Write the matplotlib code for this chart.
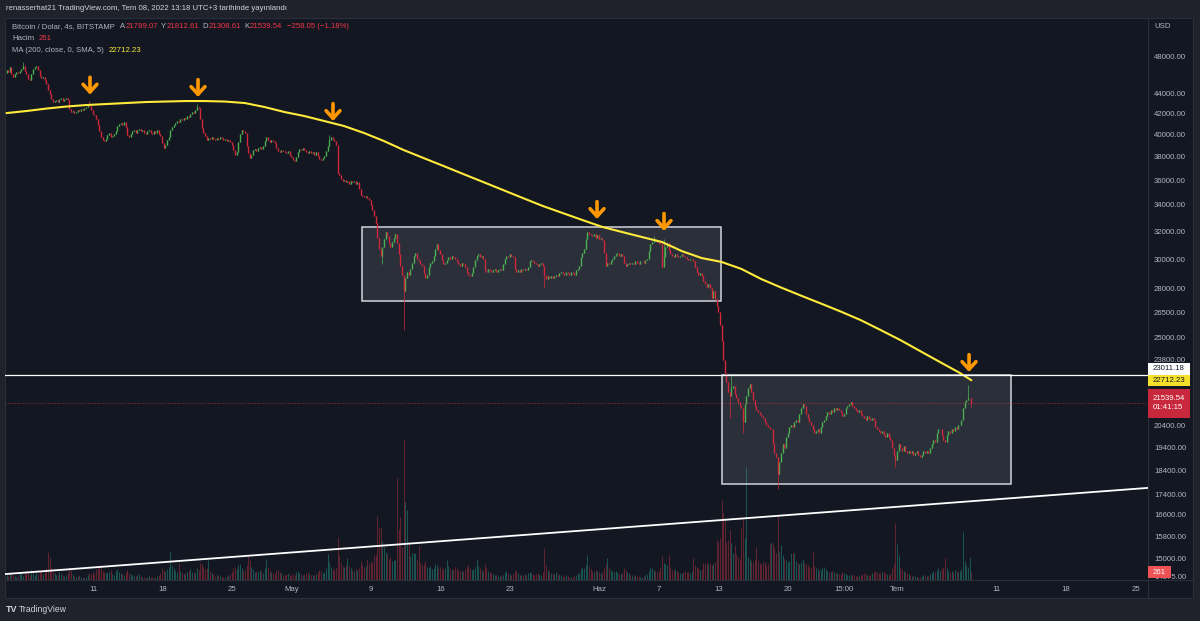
import matplotlib
matplotlib.use("Agg")
import matplotlib.pyplot as plt
import matplotlib.dates as mdates
import numpy as np
import pandas as pd
from matplotlib.patches import Rectangle
from matplotlib.lines import Line2D
from matplotlib.ticker import NullLocator
from matplotlib.transforms import blended_transform_factory, Bbox

plt.rcParams['font.family'] = ['Liberation Sans', 'DejaVu Sans']

# ---------------------------------------------------------------------------
# data (BTC/USD, Bitstamp, 4h bars, UTC+3)
# ---------------------------------------------------------------------------
first_bar = '2022-04-02 07:00'
first_open = 46300

# closes, one row per day (07:00 ... 03:00)
closes = [
    46600, 46400, 46900, 46200, 45800, 46100,
    46400, 46300, 46500, 46700, 47000, 46500,
    46100, 45600, 45500, 46200, 46700, 46900,
    47000, 46600, 45900, 45700, 45800, 45500,
    45100, 44500, 44100, 43600, 43300, 43400,
    43500, 43300, 43600, 43700, 43400, 43600,
    43700, 43500, 42600, 42300, 42400, 42200,
    42300, 42500, 42400, 42600, 42500, 42700,
    42800, 43000, 42900, 42500, 42100, 42000,
    41600, 41000, 40400, 39900, 39600, 39500,
    39700, 40100, 40300, 39900, 40000, 40200,
    40400, 40900, 41100, 41200, 41000, 41300,
    40800, 40100, 39900, 40200, 40400, 40500,
    40300, 40500, 40600, 40400, 40500, 40300,
    40200, 40400, 40500, 40300, 40200, 40400,
    40300, 40500, 40200, 40000, 39300, 38900,
    39200, 39600, 39900, 40500, 40800, 41000,
    41200, 41400, 41300, 41600, 41500, 41700,
    41600, 41900, 41800, 42100, 42300, 42200,
    42500, 42800, 42700, 41600, 40700, 40300,
    40000, 39600, 39800, 39700, 39900, 39700,
    39600, 39800, 39700, 39900, 39800, 39600,
    39700, 39500, 39600, 39400, 39200, 38700,
    38300, 38500, 39400, 40200, 40500, 40400,
    40300, 39100, 38400, 38000, 38300, 38700,
    38800, 38600, 38900, 39000, 38800, 39100,
    39500, 39900, 39600, 39400, 39600, 39500,
    39300, 38900, 38600, 38500, 38700, 38600,
    38500, 38400, 38600, 38300, 38100, 37800,
    37700, 38100, 38500, 38800, 38700, 38900,
    38700, 38500, 38400, 38600, 38400, 38500,
    38300, 38500, 38200, 37900, 37800, 38000,
    38200, 38600, 39100, 39600, 39900, 39700,
    39500, 39200, 36700, 36500, 36200, 36000,
    36100, 35900, 36000, 35800, 36000, 35900,
    36000, 35800, 35900, 35400, 34900, 34800,
    34700, 34800, 34600, 34500, 34100, 33700,
    33200, 32700, 31600, 30800, 30300, 30900,
    31500, 32000, 31700, 31200, 30900, 31300,
    31600, 31900, 31200, 30400, 29600, 29000,
    27900, 28800, 29200, 29000, 29400, 29800,
    30300, 30500, 30100, 29900, 29700, 29600,
    29100, 28800, 29000, 29500, 29800, 29900,
    30300, 30800, 31100, 30700, 30400, 30000,
    29700, 29800, 30000, 30200, 30100, 30300,
    30200, 30100, 29900, 29700, 29600, 29800,
    29700, 29500, 29200, 29000, 28900, 29100,
    29500, 30000, 30300, 30400, 30200, 30300,
    30100, 29300, 29200, 29400, 29300, 29200,
    29300, 29400, 29200, 29300, 29400, 29300,
    29700, 30100, 30300, 30200, 30400, 30300,
    30200, 29400, 29200, 29300, 29200, 29400,
    29300, 29400, 29300, 29500, 29900, 30000,
    29900, 29800, 29700, 29600, 29700, 29800,
    29600, 29000, 28700, 28900, 28800, 28900,
    28800, 28900, 29000, 28900, 29100, 29200,
    29100, 29000, 29200, 29100, 29000, 29200,
    29100, 29000, 29300, 29400, 29600, 30200,
    30500, 30800, 31500, 32000, 31900, 31800,
    31700, 31900, 31600, 31800, 31500, 31600,
    31400, 30500, 29600, 29800, 29700, 29900,
    30100, 30300, 30400, 30500, 30300, 30400,
    30300, 29800, 29600, 29700, 29800, 29700,
    29800, 29700, 29900, 29800, 29700, 29900,
    29900, 29800, 30000, 30100, 30600, 31100,
    31300, 31500, 31400, 31300, 31200, 31100,
    29500, 30200, 30900, 31200, 30700, 30400,
    30300, 30200, 30400, 30300, 30200, 30300,
    30400, 30300, 30200, 30100, 30000, 30100,
    30100, 29900, 29500, 29200, 29000, 29100,
    28900, 28600, 28400, 28200, 28400, 28100,
    27500, 27900, 27400, 27000, 26600, 25800,
    24900, 23800, 23100, 22600, 22100, 21900,
    22300, 22400, 22000, 21800, 21600, 21400,
    21300, 20600, 21500, 21900, 22300, 22500,
    22100, 21700, 21400, 21200, 21100, 21000,
    20900, 20800, 20600, 20500, 20400, 20300,
    20300, 19600, 19200, 19000, 18300, 18800,
    19200, 19600, 19400, 19900, 20100, 20400,
    20500, 20400, 20600, 20700, 20600, 21000,
    21300, 21500, 21400, 21000, 20800, 20600,
    20500, 20300, 20100, 20200, 20300, 20100,
    20400, 20600, 20700, 20900, 21100, 21000,
    21200, 21100, 21300, 21200, 21300, 21200,
    21100, 20900, 21000, 21300, 21400, 21500,
    21600, 21400, 21300, 21200, 21100, 21200,
    21000, 20900, 20800, 20700, 20900, 20800,
    20700, 20800, 20700, 20400, 20300, 20200,
    20100, 20200, 20000, 19900, 20100, 19900,
    19800, 19400, 19100, 18900, 19300, 19600,
    19400, 19300, 19500, 19300, 19200, 19300,
    19200, 19300, 19100, 19200, 19300, 19100,
    19000, 19100, 19300, 19200, 19300, 19200,
    19400, 19600, 19800, 19700, 20100, 20300,
    20300, 20000, 19800, 19700, 20000, 20200,
    20100, 20300, 20200, 20400, 20300, 20500,
    20500, 20700, 21300, 21600, 21700, 21797.59,
    21797.59, 21539.54,
]

# volume (BTC) per bar, same layout
volumes = [
    180, 140, 260, 210, 150, 120,   110, 160, 230, 190, 140, 210,
    300, 250, 180, 340, 220, 160,   240, 200, 310, 260, 190, 330,
    380, 920, 760, 420, 280, 230,   170, 210, 260, 190, 150, 120,
    150, 230, 410, 340, 200, 130,   90, 120, 150, 110, 100, 80,
    110, 180, 240, 200, 260, 190,   350, 380, 450, 400, 310, 260,
    230, 280, 250, 330, 190, 160,   300, 360, 270, 240, 200, 150,
    260, 320, 240, 210, 180, 140,   130, 160, 190, 140, 110, 90,
    80, 110, 130, 100, 90, 70,      100, 140, 180, 230, 390, 340,
    300, 360, 420, 960, 450, 380,   310, 280, 560, 290, 240, 200,
    220, 270, 310, 360, 280, 230,   250, 380, 330, 560, 520, 420,
    350, 400, 660, 300, 240, 190,   130, 160, 150, 120, 100, 90,
    110, 140, 170, 190, 280, 380,   420, 360, 480, 520, 390, 300,
    330, 510, 830, 660, 430, 350,   280, 310, 260, 340, 290, 220,
    380, 690, 420, 310, 270, 230,   210, 290, 330, 260, 220, 180,
    150, 190, 220, 180, 160, 210,   170, 250, 290, 230, 200, 160,
    190, 230, 260, 210, 180, 150,   170, 210, 280, 320, 290, 230,
    260, 380, 860, 610, 430, 360,   330, 400, 1420, 830, 560, 470,
    420, 500, 730, 450, 380, 330,   300, 360, 330, 410, 630, 480,
    420, 470, 690, 520, 600, 580,   830, 830, 2100, 1700, 1750, 1290,
    1100, 920, 860, 700, 760, 640,  660, 660, 3370, 1680, 2080, 1100,
    4650, 2570, 2310, 1220, 800, 890,   890, 890, 700, 1120, 560, 480,
    520, 620, 430, 380, 460, 350,   400, 520, 480, 390, 430, 360,
    410, 380, 660, 450, 390, 330,   360, 420, 380, 300, 340, 290,
    310, 360, 430, 480, 390, 330,   350, 420, 690, 450, 380, 300,
    330, 520, 410, 300, 260, 230,   200, 170, 150, 180, 140, 120,
    180, 260, 300, 240, 200, 160,   210, 340, 290, 220, 180, 150,
    170, 200, 180, 230, 270, 220,   190, 160, 210, 240, 200, 170,
    280, 1060, 480, 330, 290, 240,  220, 190, 260, 210, 180, 150,
    130, 110, 150, 120, 100, 90,    110, 130, 160, 190, 240, 360,
    420, 380, 510, 830, 450, 360,   310, 280, 340, 300, 260, 220,
    270, 380, 520, 730, 400, 330,   290, 250, 310, 270, 230, 190,
    240, 380, 330, 280, 220, 180,   150, 130, 170, 140, 120, 100,
    110, 130, 160, 200, 310, 420,   380, 330, 300, 260, 290, 420,
    790, 560, 520, 480, 830, 420,   330, 290, 350, 300, 260, 220,
    240, 270, 310, 280, 250, 230,   290, 730, 480, 420, 380, 330,
    360, 560, 520, 580, 540, 560,   480, 520, 610, 1320, 1250, 1400,
    2640, 2210, 1980, 1250, 1320, 1650,  1220, 900, 1160, 870, 760, 690,
    1720, 2050, 1400, 3730, 760, 690,   620, 580, 700, 1090, 650, 560,
    520, 610, 580, 490, 540, 1220,  1220, 1220, 1090, 880, 2150, 940,
    1160, 820, 700, 650, 590, 620,  890, 890, 890, 640, 560, 520,
    600, 680, 550, 520, 480, 430,   400, 920, 460, 390, 350, 300,
    330, 380, 420, 360, 310, 280,   260, 300, 280, 240, 220, 200,
    210, 260, 230, 200, 180, 160,   170, 190, 160, 140, 130, 120,
    150, 200, 240, 210, 180, 160,   170, 220, 260, 310, 280, 240,
    230, 280, 250, 220, 200, 180,   210, 380, 520, 1880, 1200, 830,
    420, 360, 300, 260, 230, 200,   160, 140, 130, 120, 110, 100,
    110, 140, 180, 150, 130, 120,   190, 240, 290, 260, 330, 380,
    310, 360, 420, 730, 380, 300,   260, 300, 280, 330, 310, 270,
    290, 350, 1580, 620, 480, 420,  760, 261,
]

# long wicks (bar index -> price)
wick_high = {10: 47400, 50: 43400, 115: 43100, 195: 40100, 391: 31700,
             397: 31500, 438: 23100, 581: 22450}
wick_low = {227: 29700, 240: 25500, 325: 28100, 437: 20800, 445: 20100,
            466: 17650, 537: 18600}
last_bar = {'open': 21789.07, 'high': 21812.61, 'low': 21308.61, 'close': 21539.54}

# MA(200) read every second day (every 12th bar) plus the last bar
ma_step = 12
ma_values = [42160, 42360, 42600, 42800, 42950, 43050, 43150, 43250, 43300, 43350,
             43350, 43300, 43150, 42750, 42260, 41870, 41390, 40910, 40260, 39520,
             38700, 37990, 37300, 36610, 35940, 35280, 34630, 34000, 33450, 32910,
             32390, 32010, 31640, 31280, 30630, 30140, 29870, 29390, 28710, 28150,
             27630, 27130, 26630, 26110, 25520, 24930, 24300, 23690, 23100, 22712.23]

price_ticks = [48000, 44000, 42000, 40000, 38000, 36000, 34000, 32000, 30000, 28000,
               26500, 25000, 23800, 20400, 19400, 18400, 17400, 16600, 15800, 15000, 14375]
time_ticks = ['2022-04-11', '2022-04-18', '2022-04-25', '2022-05-01', '2022-05-09',
              '2022-05-16', '2022-05-23', '2022-06-01', '2022-06-07', '2022-06-13',
              '2022-06-20', '2022-06-25 15:00', '2022-07-01', '2022-07-11',
              '2022-07-18', '2022-07-25']
time_labels = ['11', '18', '25', 'May', '9', '16', '23', 'Haz', '7', '13', '20',
               '15:00', 'Tem', '11', '18', '25']

# drawings
level_price = 23011.18
boxes = [('2022-05-08 02:10', '2022-06-13 05:46', 27290, 32386),
         ('2022-06-13 08:10', '2022-07-12 10:48', 17862, level_price)]
trend_line = [('2022-04-02 03:19', 14500), ('2022-07-26 03:22', 17700)]
arrow_tips = [('2022-04-10 16:45', 44000), ('2022-04-21 13:47', 43760),
              ('2022-05-05 04:03', 41390), ('2022-05-31 18:07', 32990),
              ('2022-06-07 12:04', 32090), ('2022-07-08 05:14', 23150)]
x_range = ('2022-04-02 03:19', '2022-07-26 05:45')
y_range = (14303, 52540)

# ---------------------------------------------------------------------------
W, H = 1200, 621
FRAME = '#1f222b'
BG = '#131722'
BORDER = '#2a2e39'
TXT = '#b2b5be'
UP = '#4caf50'
DOWN = '#d2283c'
VUP = '#1b5551'
VDOWN = '#642430'
YELLOW = '#ffeb3b'
ORANGE = '#ff9800'
RED = '#f23645'
FS = 5.6


def d2n(s):
    return mdates.date2num(pd.Timestamp(s).to_pydatetime())


fig = plt.figure(figsize=(W / 100, H / 100), dpi=100)
fig.patch.set_facecolor(FRAME)

# chart panel
fig.add_artist(Rectangle((5 / W, 1 - 598 / H), 1188 / W, 580 / H, transform=fig.transFigure,
                         facecolor=BG, edgecolor=BORDER, lw=0.8, zorder=-2))
fig.add_artist(Line2D([1148 / W, 1148 / W], [1 - 598 / H, 1 - 18 / H],
                      transform=fig.transFigure, color=BORDER, lw=0.8, zorder=-1))
fig.add_artist(Line2D([5 / W, 1193 / W], [1 - 580 / H, 1 - 580 / H],
                      transform=fig.transFigure, color=BORDER, lw=0.8, zorder=-1))

rect = [5 / W, 1 - 580 / H, 1143 / W, 562 / H]
vax = fig.add_axes(rect)
vax.patch.set_visible(False)
vax.axis('off')
ax = fig.add_axes(rect)
ax.patch.set_visible(False)
for s in ax.spines.values():
    s.set_visible(False)

times = pd.date_range(first_bar, periods=len(closes), freq='4h')
x = mdates.date2num(times.to_pydatetime())
c = np.array(closes, dtype=float)
o = np.r_[first_open, c[:-1]]
o[-1] = last_bar['open']
hi = np.maximum(o, c)
lo = np.minimum(o, c)
for i, p in wick_high.items():
    hi[i] = p
for i, p in wick_low.items():
    lo[i] = p
hi[-1] = last_bar['high']
lo[-1] = last_bar['low']
up = c >= o

# volume
vol = np.array(volumes, dtype=float)
vax.vlines(x, 0, vol, colors=np.where(up, VUP, VDOWN), lw=0.7)
vax.set_xlim(d2n(x_range[0]), d2n(x_range[1]))
vax.set_ylim(0, 18546)

ax.set_yscale('log')
ax.set_xlim(d2n(x_range[0]), d2n(x_range[1]))
ax.set_ylim(*y_range)

# drawings under the candles
for t0, t1, p0, p1 in boxes:
    ax.add_patch(Rectangle((d2n(t0), p0), d2n(t1) - d2n(t0), p1 - p0,
                           facecolor=(209 / 255, 212 / 255, 220 / 255, 0.13),
                           edgecolor='#d1d4dc', lw=1.1, zorder=1))

# candles
for m, col in ((up, UP), (~up, DOWN)):
    ax.vlines(x[m], lo[m], hi[m], color=col, lw=0.5, zorder=2)
    ax.vlines(x[m], o[m], c[m], color=col, lw=1.0, zorder=2)

# MA(200)
ma_x = list(x[::ma_step][:len(ma_values) - 1]) + [x[-1]]
ax.plot(ma_x, ma_values, color=YELLOW, lw=1.5, zorder=3, solid_capstyle='round')

# lines
ax.axhline(level_price, color='white', lw=0.9, zorder=3)
ax.axhline(last_bar['close'], color=RED, lw=0.6, ls=(0, (1, 2)), alpha=0.8, zorder=3)
ax.plot([d2n(t) for t, _ in trend_line], [p for _, p in trend_line],
        color='white', lw=1.3, zorder=3)

for t, p in arrow_tips:
    ax.annotate('', xy=(d2n(t), p), xytext=(0, 12.5), textcoords='offset points',
                arrowprops=dict(arrowstyle='->,head_length=0.55,head_width=0.5',
                                color=ORANGE, lw=2.6, shrinkA=0, shrinkB=0,
                                capstyle='round', joinstyle='round'),
                zorder=4)

# axes ticks
ax.yaxis.set_major_locator(NullLocator())
ax.yaxis.set_minor_locator(NullLocator())
ax.set_xticks([d2n(t) for t in time_ticks])
ax.set_xticklabels(time_labels)
ax.xaxis.set_minor_locator(NullLocator())
ax.tick_params(axis='x', length=0, pad=4.2, labelsize=FS, labelcolor=TXT)

# price scale labels
ytrans = blended_transform_factory(fig.transFigure, ax.transData)
clip = Bbox.from_extents(1148, H - 580, 1193, H - 18)
for p in price_ticks:
    t = fig.text(1154 / W, p, f'{p:.2f}', transform=ytrans, color=TXT, fontsize=FS,
                 va='center', ha='left', zorder=3)
    t.set_clip_box(clip)
    t.set_clip_on(True)
fig.text(1154 / W, 1 - 26 / H, 'USD', color=TXT, fontsize=FS, va='center', ha='left')


def tag(yc, h, text, face, tcol, w=42):
    fig.add_artist(Rectangle((1148 / W, (yc - h / 2) / H), w / W, h / H,
                             transform=fig.transFigure, facecolor=face,
                             edgecolor='none', zorder=4))
    fig.text(1153 / W, yc / H, text, color=tcol, fontsize=FS, va='center', ha='left',
             zorder=5, linespacing=1.35)


y_ma = ax.transData.transform((x[-1], ma_values[-1]))[1]
y_last = ax.transData.transform((x[-1], last_bar['close']))[1]
y_vol = vax.transData.transform((x[-1], volumes[-1]))[1]
tag(y_ma, 12, f'{ma_values[-1]:.2f}', '#f5e12c', '#131722')
tag(y_ma + 11.5, 11.5, f'{level_price:.2f}', '#ffffff', '#131722')
tag(y_last, 29, f"{last_bar['close']:.2f}\n01:41:15", '#c8283b', '#ffffff')
tag(y_vol, 11.5, f'{volumes[-1]}', '#f05355', '#ffffff', w=23)

# header and legend
renderer = fig.canvas.get_renderer()


def chain(x0, y0, parts, size=FS):
    xx = x0
    for s, col, gap in parts:
        t = fig.text(xx / W, 1 - y0 / H, s, color=col, fontsize=size, va='center', ha='left')
        xx += t.get_window_extent(renderer).width + gap


fig.text(6 / W, 1 - 9 / H,
         'renasserhat21 TradingView.com, Tem 08, 2022 13:18 UTC+3 tarihinde yayınlandı',
         color='#d1d4dc', fontsize=FS, va='center', ha='left')

chg = last_bar['close'] - closes[-2]
pct = chg / closes[-2] * 100
chain(12, 26.5, [('Bitcoin / Dolar, 4s, BITSTAMP', TXT, 5),
                 ('A', TXT, 0.5), (f"{last_bar['open']:.2f}", RED, 3),
                 ('Y', TXT, 0.5), (f"{last_bar['high']:.2f}", RED, 3),
                 ('D', TXT, 0.5), (f"{last_bar['low']:.2f}", RED, 3),
                 ('K', TXT, 0.5), (f"{last_bar['close']:.2f}", RED, 5),
                 (f"{chg:.2f} ({pct:.2f}%)".replace('-', '\u2212'), RED, 0)])
chain(12, 38.5, [('Hacim', TXT, 5), (f'{volumes[-1]}', RED, 0)])
chain(12, 50, [('MA (200, close, 0, SMA, 5)', TXT, 5), (f'{ma_values[-1]:.2f}', YELLOW, 0)])

# footer logo
fig.text(6 / W, 1 - 609 / H, 'TV', color='#d1d4dc', fontsize=6.5, fontweight='bold',
         va='center', ha='left')
fig.text(19 / W, 1 - 609 / H, 'TradingView', color='#d1d4dc', fontsize=6.2,
         va='center', ha='left')

fig.savefig('out.png', dpi=100, facecolor=fig.get_facecolor())
